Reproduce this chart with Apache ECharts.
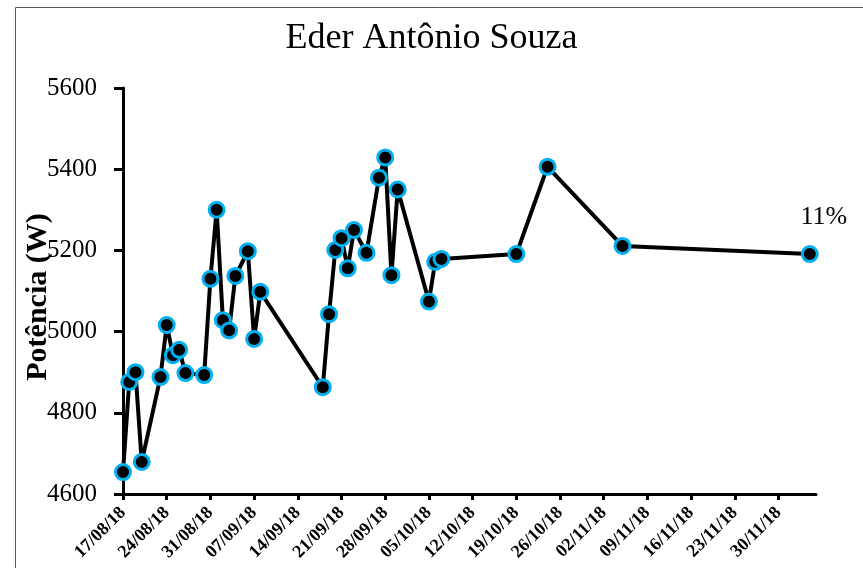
<!DOCTYPE html>
<html>
<head>
<meta charset="utf-8">
<script src="https://cdn.jsdelivr.net/npm/echarts@6/dist/echarts.min.js"></script>
<style>
  html, body { margin: 0; padding: 0; background: #fff; }
  #chart { width: 863px; height: 568px; }
</style>
</head>
<body>
<div id="chart"></div>
<script>
// measurement dates (dd/mm/yy) and power readings (W)
var dates = ['17/08/18','18/08/18','19/08/18','20/08/18','23/08/18','24/08/18','25/08/18','26/08/18',
  '27/08/18','30/08/18','31/08/18','01/09/18','02/09/18','03/09/18','04/09/18','06/09/18','07/09/18',
  '08/09/18','18/09/18','19/09/18','20/09/18','21/09/18','22/09/18','23/09/18','25/09/18','27/09/18',
  '28/09/18','29/09/18','30/09/18','05/10/18','06/10/18','07/10/18','19/10/18','24/10/18','05/11/18',
  '05/12/18'];
var potencia = [4654, 4876, 4900, 4679, 4888, 5016, 4942, 4955,
  4898, 4893, 5130, 5300, 5028, 5003, 5137, 5198, 4982,
  5098, 4863, 5043, 5201, 5230, 5156, 5250, 5194, 5379,
  5429, 5139, 5350, 5074, 5172, 5179, 5191, 5406, 5211,
  5191];
var tickLabels = ['17/08/18','24/08/18','31/08/18','07/09/18','14/09/18','21/09/18','28/09/18','05/10/18',
  '12/10/18','19/10/18','26/10/18','02/11/18','09/11/18','16/11/18','23/11/18','30/11/18'];
var axisStart = '17/08/18';
var axisEnd = '06/12/18';
var titleText = 'Eder Antônio Souza';
var yName = 'Potência (W)';
var endNote = '11%';

function toDay(s) {
  var p = s.split('/');
  return Date.UTC(2000 + (+p[2]), (+p[1]) - 1, +p[0]) / 86400000;
}
var day0 = toDay(axisStart);
function dayOf(s) { return toDay(s) - day0; }
function labelOf(v) {
  var d = new Date((day0 + v) * 86400000);
  var dd = ('0' + d.getUTCDate()).slice(-2);
  var mm = ('0' + (d.getUTCMonth() + 1)).slice(-2);
  return dd + '/' + mm + '/' + String(d.getUTCFullYear()).slice(-2);
}

var tickDays = tickLabels.map(dayOf);
var seriesData = dates.map(function (d, i) {
  var item = { value: [dayOf(d), potencia[i]] };
  if (i === dates.length - 1) {
    item.label = {
      show: true, formatter: endNote, position: 'top', offset: [14, -10],
      fontFamily: 'Liberation Serif', fontSize: 26, color: '#000'
    };
  }
  return item;
});

var font = 'Liberation Serif';
var myChart = echarts.init(document.getElementById('chart'));
myChart.setOption({
  animation: false,
  title: {
    text: titleText,
    left: 'center',
    top: 16,
    textStyle: { fontFamily: font, fontSize: 36, fontWeight: 'normal', color: '#000' }
  },
  graphic: [{
    type: 'rect',
    shape: { x: 15.5, y: 7.5, width: 900, height: 600 },
    style: { fill: 'none', stroke: '#595959', lineWidth: 1 },
    silent: true
  }],
  grid: { left: 123, right: 47, top: 88, bottom: 74 },
  xAxis: {
    type: 'value',
    min: 0,
    max: dayOf(axisEnd),
    interval: 7,
    splitLine: { show: false },
    axisLine: { show: true, lineStyle: { color: '#000', width: 3 } },
    axisTick: { show: true, customValues: tickDays, length: 6, lineStyle: { color: '#000', width: 3 } },
    axisLabel: {
      customValues: tickDays,
      formatter: function (v) { return labelOf(v); },
      rotate: 45, margin: 16,
      fontFamily: font, fontSize: 18, fontWeight: 'bold', color: '#000'
    }
  },
  yAxis: {
    type: 'value',
    min: 4600,
    max: 5600,
    interval: 200,
    name: yName,
    nameLocation: 'middle',
    nameGap: 70,
    nameMoveOverlap: false,
    nameTextStyle: { fontFamily: font, fontSize: 30, fontWeight: 'bold', color: '#000', padding: [0, 12, 0, 0] },
    splitLine: { show: false },
    axisLine: { show: true, lineStyle: { color: '#000', width: 3 } },
    axisTick: { show: true, length: 9, lineStyle: { color: '#000', width: 3 } },
    axisLabel: {
      margin: 26, fontFamily: font, fontSize: 25, color: '#000',
      formatter: function (v) { return String(v); }
    }
  },
  series: [{
    type: 'line',
    data: seriesData,
    symbol: 'circle',
    symbolSize: 15,
    lineStyle: { color: '#000', width: 4 },
    itemStyle: { color: '#000', borderColor: '#00B0F0', borderWidth: 3 }
  }]
});
</script>
</body>
</html>
